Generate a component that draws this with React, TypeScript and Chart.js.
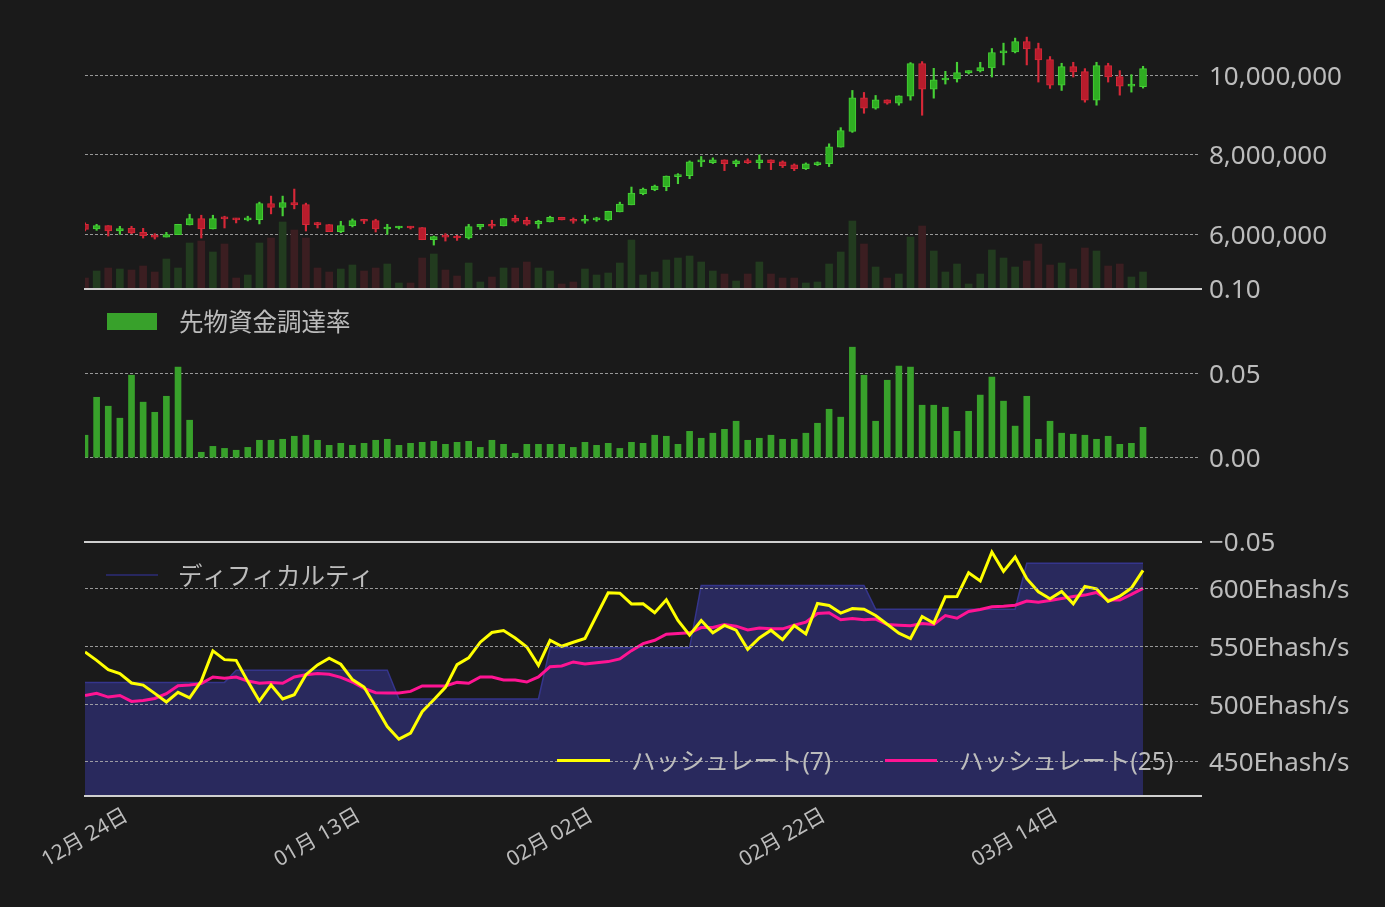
import React, { useEffect, useRef } from 'react';
import { Chart, registerables } from 'chart.js';

Chart.register(...registerables);

// ---------------- data ----------------
const dayTicks = [0, 20, 40, 60, 80];
const dayTickLabels = ['12月 24日', '01月 13日', '02月 02日', '02月 22日', '03月 14日'];

const open = [
  6253000, 6135000, 6219000, 6084000, 6152000, 6051000, 5983000, 5932000, 5992000, 6236000,
  6397000, 6135000, 6413000, 6405000, 6363000, 6371000, 6776000, 6675000, 6802000, 6751000,
  6270000, 6245000, 6068000, 6219000, 6354000, 6346000, 6135000, 6160000, 6177000, 6169000,
  5865000, 5958000, 5949000, 5907000, 6186000, 6253000, 6211000, 6405000, 6354000, 6262000,
  6312000, 6430000, 6380000, 6329000, 6363000, 6363000, 6565000, 6743000, 7021000, 7122000,
  7198000, 7451000, 7477000, 7823000, 7806000, 7873000, 7781000, 7848000, 7806000, 7873000,
  7823000, 7747000, 7654000, 7755000, 7781000, 8194000, 8591000, 9434000, 9173000, 9384000,
  9299000, 9477000, 10295000, 9654000, 9882000, 9907000, 10059000, 10110000, 10186000, 10565000,
  10591000, 10852000, 10675000, 10397000, 9755000, 10219000, 10093000, 9375000, 10245000, 9966000,
  9730000, 9713000,
];
const high = [
  6287000, 6253000, 6219000, 6203000, 6203000, 6152000, 6017000, 6051000, 6253000, 6506000,
  6481000, 6481000, 6456000, 6405000, 6456000, 6810000, 6962000, 6962000, 7139000, 6785000,
  6304000, 6245000, 6329000, 6388000, 6380000, 6380000, 6253000, 6203000, 6203000, 6169000,
  5958000, 6017000, 5975000, 6253000, 6253000, 6354000, 6397000, 6481000, 6430000, 6354000,
  6456000, 6430000, 6413000, 6481000, 6430000, 6582000, 6810000, 7190000, 7165000, 7240000,
  7468000, 7527000, 7848000, 7958000, 7924000, 7873000, 7873000, 7899000, 8000000, 7873000,
  7848000, 7772000, 7797000, 7823000, 8278000, 8684000, 9620000, 9570000, 9494000, 9384000,
  9485000, 10321000, 10346000, 10177000, 10101000, 10329000, 10118000, 10329000, 10675000, 10810000,
  10937000, 10962000, 10810000, 10473000, 10304000, 10329000, 10169000, 10329000, 10304000, 10118000,
  10017000, 10228000,
];
const low = [
  6084000, 6101000, 5958000, 6000000, 6017000, 5907000, 5882000, 5932000, 5992000, 6236000,
  5907000, 6135000, 6160000, 6287000, 6338000, 6262000, 6515000, 6464000, 6641000, 6084000,
  6160000, 6068000, 6042000, 6186000, 6270000, 6059000, 6000000, 6135000, 6135000, 5865000,
  5730000, 5831000, 5848000, 5882000, 6127000, 6152000, 6211000, 6304000, 6228000, 6152000,
  6312000, 6363000, 6278000, 6278000, 6329000, 6338000, 6565000, 6743000, 6996000, 7097000,
  7097000, 7274000, 7401000, 7705000, 7781000, 7603000, 7705000, 7781000, 7654000, 7629000,
  7679000, 7603000, 7629000, 7730000, 7705000, 8194000, 8565000, 9046000, 9148000, 9274000,
  9249000, 9375000, 8996000, 9426000, 9781000, 9831000, 10034000, 10084000, 9958000, 10262000,
  10565000, 10262000, 9831000, 9671000, 9620000, 9958000, 9325000, 9249000, 9831000, 9502000,
  9578000, 9679000,
];
const close = [
  6127000, 6219000, 6084000, 6143000, 6034000, 5966000, 5932000, 5992000, 6253000, 6397000,
  6135000, 6397000, 6388000, 6363000, 6371000, 6776000, 6675000, 6802000, 6743000, 6245000,
  6245000, 6068000, 6219000, 6346000, 6329000, 6135000, 6169000, 6177000, 6160000, 5865000,
  5941000, 5932000, 5907000, 6194000, 6253000, 6203000, 6397000, 6329000, 6253000, 6329000,
  6430000, 6363000, 6329000, 6380000, 6371000, 6582000, 6759000, 7038000, 7139000, 7215000,
  7468000, 7502000, 7823000, 7831000, 7873000, 7781000, 7848000, 7806000, 7873000, 7806000,
  7730000, 7654000, 7772000, 7797000, 8203000, 8608000, 9434000, 9173000, 9384000, 9299000,
  9485000, 10295000, 9654000, 9890000, 9916000, 10068000, 10118000, 10194000, 10574000, 10599000,
  10852000, 10667000, 10388000, 9755000, 10219000, 10084000, 9375000, 10245000, 9958000, 9730000,
  9747000, 10169000,
];
const volume = [
  330, 540, 630, 600, 570, 690, 510, 900, 630, 1380,
  1440, 1110, 1350, 330, 420, 1380, 1530, 2010, 1770, 1530,
  630, 510, 600, 720, 540, 630, 750, 180, 180, 930,
  1050, 570, 390, 780, 210, 360, 630, 630, 810, 630,
  540, 150, 210, 600, 420, 480, 780, 1470, 420, 510,
  870, 930, 990, 810, 540, 450, 240, 450, 810, 450,
  330, 330, 180, 210, 750, 1110, 2040, 1350, 660, 330,
  450, 1560, 1890, 1140, 510, 750, 150, 450, 1170, 930,
  660, 840, 1350, 720, 780, 600, 1230, 1140, 690, 750,
  360, 510,
];
const funding = [
  0.0133, 0.0358, 0.0305, 0.0234, 0.0489, 0.0329, 0.0269, 0.0364, 0.0537, 0.0222,
  0.0032, 0.0067, 0.0055, 0.0044, 0.0061, 0.0103, 0.0103, 0.0109, 0.0127, 0.0133,
  0.0103, 0.0073, 0.0085, 0.0073, 0.0085, 0.0103, 0.0109, 0.0073, 0.0085, 0.0091,
  0.0097, 0.0079, 0.0091, 0.0097, 0.0061, 0.0103, 0.0079, 0.0026, 0.0079, 0.0079,
  0.0079, 0.0079, 0.0061, 0.0091, 0.0073, 0.0085, 0.0055, 0.0091, 0.0085, 0.0133,
  0.0127, 0.0079, 0.0156, 0.0115, 0.0145, 0.0168, 0.0216, 0.0103, 0.0115, 0.0133,
  0.0109, 0.0109, 0.0145, 0.0204, 0.0287, 0.0240, 0.0655, 0.0489, 0.0216, 0.0459,
  0.0543, 0.0537, 0.0311, 0.0311, 0.0299, 0.0156, 0.0275, 0.0371, 0.0478, 0.0335,
  0.0187, 0.0364, 0.0109, 0.0216, 0.0145, 0.0139, 0.0133, 0.0109, 0.0127, 0.0079,
  0.0085, 0.0180,
];
const hashrate7 = [
  545.3, 538.0, 529.9, 526.5, 518.4, 516.6, 509.4, 501.9, 510.3, 505.6,
  520.1, 546.2, 538.6, 538.0, 519.8, 502.7, 516.6, 504.5, 508.2, 525.6,
  534.0, 539.8, 534.6, 521.3, 514.9, 498.1, 480.7, 469.7, 474.9, 493.5,
  503.9, 514.6, 534.3, 540.1, 553.7, 562.1, 563.8, 557.4, 549.6, 533.7,
  555.4, 550.2, 553.7, 556.9, 576.8, 596.5, 596.2, 586.9, 587.0, 579.2,
  590.4, 572.5, 559.8, 572.5, 561.8, 568.2, 564.1, 547.6, 557.4, 564.1,
  556.0, 568.2, 560.9, 587.3, 585.5, 578.9, 582.9, 582.3, 576.8, 569.3,
  561.5, 556.9, 576.0, 570.2, 593.1, 593.3, 613.9, 606.7, 631.8, 615.1,
  627.5, 608.7, 597.4, 591.3, 597.7, 587.0, 602.0, 600.0, 589.0, 593.6,
  600.6, 615.9,
];
const hashrate25 = [
  507.6, 509.4, 506.2, 507.6, 502.4, 503.3, 505.0, 509.1, 516.0, 516.6,
  517.8, 523.6, 522.4, 523.6, 520.1, 518.1, 518.9, 518.1, 523.6, 525.6,
  526.5, 525.9, 523.3, 519.2, 513.7, 510.0, 509.7, 509.7, 511.1, 515.8,
  515.8, 515.8, 518.9, 518.1, 523.6, 523.6, 521.0, 521.0, 519.2, 523.6,
  532.5, 533.1, 536.6, 534.9, 536.0, 536.9, 539.2, 546.4, 552.5, 555.4,
  560.6, 561.2, 561.8, 566.4, 566.4, 569.0, 567.6, 564.4, 566.1, 565.3,
  565.3, 568.4, 571.0, 578.6, 579.2, 573.1, 574.2, 573.1, 573.7, 569.0,
  568.4, 567.9, 569.9, 569.0, 576.8, 574.5, 580.3, 582.1, 584.4, 584.9,
  585.8, 589.3, 588.4, 589.9, 591.6, 593.3, 594.5, 596.8, 590.2, 590.2,
  595.1, 600.3,
];
const difficulty = [
  518.9, 518.9, 518.9, 518.9, 518.9, 518.9, 518.9, 518.9, 518.9, 518.9,
  518.9, 518.9, 518.9, 529.4, 529.4, 529.4, 529.4, 529.4, 529.4, 529.4,
  529.4, 529.4, 529.4, 529.4, 529.4, 529.4, 529.4, 504.5, 504.5, 504.5,
  504.5, 504.5, 504.5, 504.5, 504.5, 504.5, 504.5, 504.5, 504.5, 504.5,
  548.8, 548.8, 548.8, 548.8, 548.8, 548.8, 548.8, 548.8, 548.8, 548.8,
  548.8, 548.8, 548.8, 602.9, 602.9, 602.9, 602.9, 602.9, 602.9, 602.9,
  602.9, 602.9, 602.9, 602.9, 602.9, 602.9, 602.9, 602.9, 582.3, 582.3,
  582.3, 582.3, 582.3, 582.3, 582.3, 582.3, 582.3, 582.3, 582.3, 582.3,
  582.3, 622.0, 622.0, 622.0, 622.0, 622.0, 622.0, 622.0, 622.0, 622.0,
  622.0, 622.0,
];

const priceTicks = [6000000, 8000000, 10000000];
const fundingTicks = [-0.05, 0, 0.05, 0.1];
const hashTicks = [450, 500, 550, 600];

// ---------------- styles ----------------
const W = 1385;
const H = 907;
const BG = '#1a1a1a';
const FONT = "'Noto Sans', 'Noto Sans CJK JP', sans-serif";
const TEXT = '#bcbcbc';
const GRID = 'rgba(175,175,175,0.85)';
const BORDER = '#cfcfcf';
const X_MAX = 95.9;
const UP_FILL = '#2fae22';
const UP_LINE = '#46cf36';
const DN_FILL = '#b81c2c';
const DN_LINE = '#d62838';
const UP_VOL = '#223b1f';
const DN_VOL = '#3b1e21';
const FUND = '#38a12b';
const DIFF_FILL = '#29295d';
const DIFF_LINE = '#35358c';

const days = close.map((_, i) => i);
const isUp = days.map((i) => close[i] >= open[i]);

const xScale: any = {
  type: 'linear',
  min: 0,
  max: X_MAX,
  display: false,
  offset: false,
  grid: { display: false, offset: false },
};

function yAxis(min: number, max: number, tickVals: number[], fmt: (v: number) => string, gridExtra: any = {}) {
  return {
    type: 'linear',
    position: 'right',
    min,
    max,
    afterFit: (s: any) => {
      s.width = W - 1200;
    },
    afterBuildTicks: (s: any) => {
      s.ticks = tickVals.map((v) => ({ value: v }));
    },
    grid: { color: GRID, lineWidth: 1, drawTicks: false, ...gridExtra },
    border: { display: false, dash: [3, 2] },
    ticks: {
      color: TEXT,
      font: { family: FONT, size: 26 },
      padding: 9,
      labelOffset: 2,
      callback: (v: any) => fmt(Number(v)),
    },
  };
}

const baseOptions = (padding: any) => ({
  animation: false,
  responsive: false,
  maintainAspectRatio: false,
  events: [],
  layout: { padding },
  plugins: { legend: { display: false }, tooltip: { enabled: false } },
});

function hLine(ctx: CanvasRenderingContext2D, x1: number, x2: number, y: number, color: string, width: number) {
  ctx.save();
  ctx.strokeStyle = color;
  ctx.lineWidth = width;
  ctx.beginPath();
  ctx.moveTo(x1, y);
  ctx.lineTo(x2, y);
  ctx.stroke();
  ctx.restore();
}

function cfgPrice(): any {
  return {
    type: 'bar',
    data: {
      datasets: [
        {
          label: 'body',
          data: days.map((i) => ({ x: i, y: [open[i], close[i]] })),
          backgroundColor: days.map((i) => (isUp[i] ? UP_FILL : DN_FILL)),
          borderColor: days.map((i) => (isUp[i] ? UP_LINE : DN_LINE)),
          borderWidth: 1,
          borderSkipped: false,
          minBarLength: 2,
          barThickness: 7,
          grouped: false,
          clip: 0,
          yAxisID: 'y',
          order: 0,
        },
        {
          label: 'wick',
          data: days.map((i) => ({ x: i, y: [low[i], high[i]] })),
          backgroundColor: days.map((i) => (isUp[i] ? UP_LINE : DN_LINE)),
          borderWidth: 0,
          barThickness: 1.5,
          grouped: false,
          clip: 0,
          yAxisID: 'y',
          order: 1,
        },
        {
          label: 'volume',
          data: days.map((i) => ({ x: i, y: volume[i] })),
          backgroundColor: days.map((i) => (isUp[i] ? UP_VOL : DN_VOL)),
          borderWidth: 0,
          barThickness: 7,
          grouped: false,
          clip: 0,
          yAxisID: 'yVol',
          order: 2,
        },
      ],
    },
    options: {
      ...baseOptions({ left: 85, right: 0, top: 35, bottom: H - 289 }),
      scales: {
        x: xScale,
        y: yAxis(4625000, 11015000, priceTicks, (v) => v.toLocaleString('en-US')),
        yVol: { type: 'linear', display: false, min: 0, max: 7620, grid: { display: false } },
      },
    },
  };
}

const fundingDeco = {
  id: 'fundingDeco',
  afterDraw(chart: any) {
    const { ctx, chartArea } = chart;
    const { left, right, top, bottom } = chartArea;
    hLine(ctx, left - 1, right + 2, top, BORDER, 2);
    hLine(ctx, left - 1, right + 2, bottom, BORDER, 2);
    ctx.save();
    ctx.fillStyle = FUND;
    ctx.fillRect(left + 22, top + 24, 50, 17);
    ctx.fillStyle = TEXT;
    ctx.font = `24.5px ${FONT}`;
    ctx.textAlign = 'left';
    ctx.textBaseline = 'middle';
    ctx.fillText('先物資金調達率', left + 94, top + 35);
    ctx.restore();
  },
};

function cfgFunding(): any {
  return {
    type: 'bar',
    data: {
      datasets: [
        {
          label: '先物資金調達率',
          data: days.map((i) => ({ x: i, y: funding[i] })),
          backgroundColor: FUND,
          borderWidth: 0,
          barThickness: 6,
          grouped: false,
          clip: 0,
        },
      ],
    },
    options: {
      ...baseOptions({ left: 85, right: 0, top: 289, bottom: H - 542 }),
      scales: {
        x: xScale,
        y: yAxis(-0.05, 0.1, fundingTicks, (v) =>
          (v < -1e-9 ? '\u2212' : '') + Math.abs(v).toFixed(2)
        ),
      },
    },
    plugins: [fundingDeco],
  };
}

const hashDeco = {
  id: 'hashDeco',
  afterDraw(chart: any) {
    const { ctx, chartArea, scales } = chart;
    const { left, right, top, bottom } = chartArea;
    hLine(ctx, left - 1, right + 2, bottom, BORDER, 2);
    ctx.save();
    ctx.font = `24.5px ${FONT}`;
    ctx.textAlign = 'left';
    ctx.textBaseline = 'middle';
    // difficulty legend (top-left)
    hLine(ctx, left + 21, left + 73, top + 33, '#27275f', 2);
    ctx.fillStyle = TEXT;
    ctx.fillText('ディフィカルティ', left + 93, top + 36);
    // hashrate legends (bottom-right)
    const ly = bottom - 35.5;
    hLine(ctx, 557, 610, ly, '#ffff00', 3);
    ctx.fillStyle = TEXT;
    ctx.fillText('ハッシュレート(7)', 631, ly + 2.5);
    hLine(ctx, 885, 937, ly, '#ff1493', 3);
    ctx.fillStyle = TEXT;
    ctx.fillText('ハッシュレート(25)', 959, ly + 2.5);
    // x axis labels, rotated
    const xs = scales.x;
    ctx.font = `21px ${FONT}`;
    ctx.textAlign = 'center';
    ctx.textBaseline = 'middle';
    ctx.fillStyle = TEXT;
    dayTicks.forEach((d, k) => {
      const px = xs.getPixelForValue(d);
      ctx.save();
      ctx.translate(px, bottom + 42);
      ctx.rotate(-Math.PI / 6);
      ctx.fillText(dayTickLabels[k], 0, 0);
      ctx.restore();
    });
    ctx.restore();
  },
};

function cfgHash(): any {
  return {
    type: 'line',
    data: {
      datasets: [
        {
          label: 'ハッシュレート(7)',
          data: days.map((i) => ({ x: i, y: hashrate7[i] })),
          borderColor: '#ffff00',
          borderWidth: 3,
          pointRadius: 0,
          tension: 0,
          fill: false,
          order: 0,
        },
        {
          label: 'ハッシュレート(25)',
          data: days.map((i) => ({ x: i, y: hashrate25[i] })),
          borderColor: '#ff1493',
          borderWidth: 3,
          pointRadius: 0,
          tension: 0,
          fill: false,
          order: 1,
        },
        {
          label: 'ディフィカルティ',
          data: days.map((i) => ({ x: i, y: difficulty[i] })),
          borderColor: DIFF_LINE,
          backgroundColor: DIFF_FILL,
          borderWidth: 1.5,
          pointRadius: 0,
          tension: 0,
          fill: 'start',
          order: 2,
        },
      ],
    },
    options: {
      ...baseOptions({ left: 85, right: 0, top: 542, bottom: H - 796 }),
      scales: {
        x: xScale,
        y: yAxis(420.5, 640.5, hashTicks, (v) => `${v}Ehash/s`, { z: 1 }),
      },
    },
    plugins: [hashDeco],
  };
}

export default function App() {
  const aRef = useRef<HTMLCanvasElement>(null);
  const bRef = useRef<HTMLCanvasElement>(null);
  const cRef = useRef<HTMLCanvasElement>(null);

  useEffect(() => {
    document.body.style.margin = '0';
    document.body.style.background = BG;
    const charts = [
      new Chart(aRef.current as HTMLCanvasElement, cfgPrice()),
      new Chart(bRef.current as HTMLCanvasElement, cfgFunding()),
      new Chart(cRef.current as HTMLCanvasElement, cfgHash()),
    ];
    return () => charts.forEach((c) => c.destroy());
  }, []);

  const cs: React.CSSProperties = { position: 'absolute', left: 0, top: 0 };
  return (
    <div style={{ position: 'relative', width: W, height: H, background: BG, overflow: 'hidden' }}>
      <canvas ref={aRef} width={W} height={H} style={cs} />
      <canvas ref={bRef} width={W} height={H} style={cs} />
      <canvas ref={cRef} width={W} height={H} style={cs} />
    </div>
  );
}
